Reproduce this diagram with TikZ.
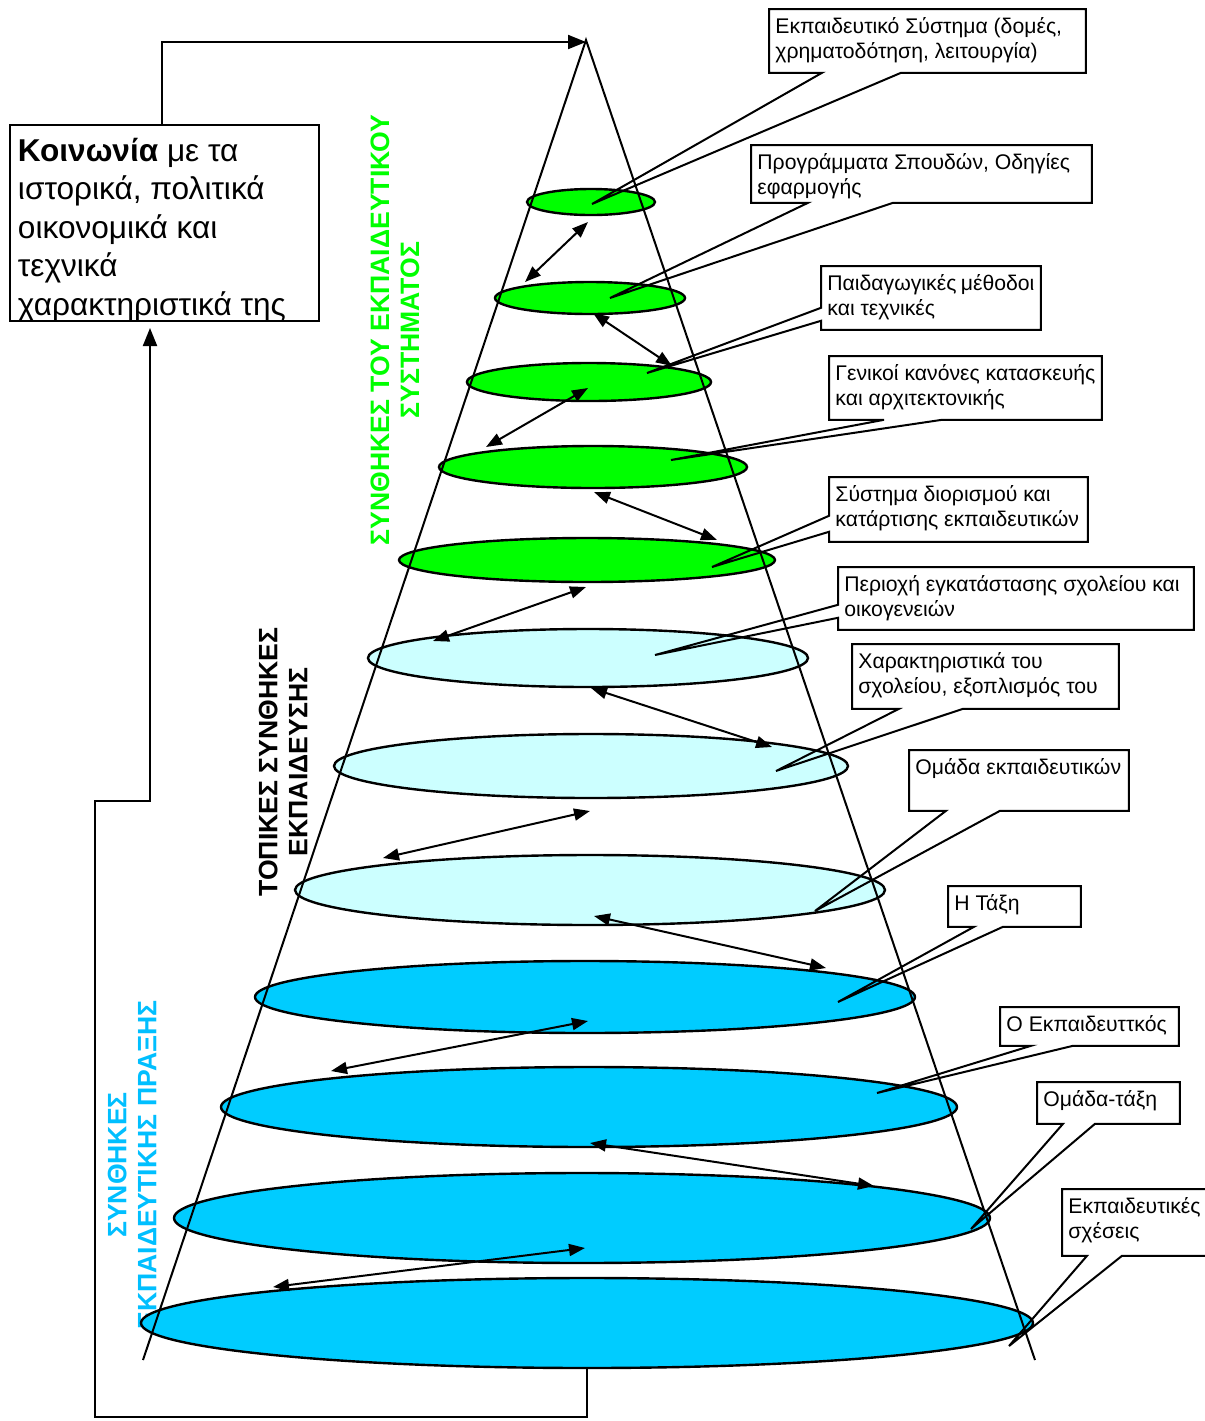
\documentclass[tikz,border=0pt]{standalone}
\usepackage{fontspec}
\setmainfont{Liberation Sans}
\usetikzlibrary{shapes.geometric,arrows.meta,calc}
\definecolor{sysgreen}{RGB}{0,255,0}
\definecolor{localcyan}{RGB}{204,255,255}
\definecolor{praxcyan}{RGB}{0,204,255}
\definecolor{praxtext}{RGB}{0,191,255}
% text of a callout box: first baseline 12.25pt below the top edge
\newcommand{\notetext}[3]{\parbox[c][#2][t]{#1}{\rule{0pt}{12.25pt}#3}}
\begin{document}
\begin{tikzpicture}[x=0.5pt,y=-0.5pt,
  disc/.style={ellipse, draw=black, line width=1.2pt, inner sep=0pt},
  link/.style={line width=1pt, {Triangle[length=8pt,width=6pt]}-{Triangle[length=8pt,width=6pt]}},
  flow/.style={line width=1pt, -{Triangle[length=9pt,width=7pt]}},
  note/.style={inner xsep=3pt, inner ysep=0pt, anchor=north west,
    font=\fontsize{10.6}{12.5}\selectfont},
  outline/.style={line width=1pt, line join=miter},
  title/.style={rotate=90, align=center,
    font=\fontsize{13.3}{15}\selectfont\bfseries}
]
\fill[white] (0,0) rectangle (1205,1421);
\useasboundingbox (0,0) rectangle (1205,1421);

% vertical titles of the three levels
\node[title, text=sysgreen] (tsys) at (395,330) {ΣΥΝΘΗΚΕΣ ΤΟΥ ΕΚΠΑΙΔΕΥΤΙΚΟΥ\\ΣΥΣΤΗΜΑΤΟΣ};
\node[title] (tloc) at (283,762) {ΤΟΠΙΚΕΣ ΣΥΝΘΗΚΕΣ\\ΕΚΠΑΙΔΕΥΣΗΣ};
\node[title, text=praxtext] (tprax) at (132,1165) {ΣΥΝΘΗΚΕΣ\\ΕΚΠΑΙΔΕΥΤΙΚΗΣ ΠΡΑΞΗΣ};

% discs of the cone
\node[disc, fill=sysgreen, minimum width=64pt, minimum height=13pt] (e1) at (591,202) {};
\node[disc, fill=sysgreen, minimum width=95pt, minimum height=16pt] (e2) at (590,298) {};
\node[disc, fill=sysgreen, minimum width=122pt, minimum height=19pt] (e3) at (589,382) {};
\node[disc, fill=sysgreen, minimum width=154pt, minimum height=21pt] (e4) at (593,467) {};
\node[disc, fill=sysgreen, minimum width=188pt, minimum height=22pt] (e5) at (587,560) {};
\node[disc, fill=localcyan, minimum width=220pt, minimum height=29pt] (e6) at (588,658) {};
\node[disc, fill=localcyan, minimum width=257pt, minimum height=32pt] (e7) at (591,766) {};
\node[disc, fill=localcyan, minimum width=295pt, minimum height=35pt] (e8) at (590,890) {};
\node[disc, fill=praxcyan, minimum width=330pt, minimum height=36pt] (e9) at (585,997) {};
\node[disc, fill=praxcyan, minimum width=368pt, minimum height=40pt] (e10) at (589,1107) {};
\node[disc, fill=praxcyan, minimum width=408pt, minimum height=45pt] (e11) at (582,1218) {};
\node[disc, fill=praxcyan, minimum width=446pt, minimum height=45pt] (e12) at (587,1323) {};

% cone
\coordinate (apex) at (586,40);
\coordinate (bl) at (143,1360);
\coordinate (br) at (1035,1360);
\draw[line width=1pt] (bl) -- (apex) -- (br);

% two-way links between neighbouring discs
\coordinate (a1) at (588,222);  \coordinate (b1) at (525,282);
\coordinate (a2) at (593,313);  \coordinate (b2) at (672,366);
\coordinate (a3) at (588,388);  \coordinate (b3) at (486,447);
\coordinate (a4) at (594,492);  \coordinate (b4) at (717,540);
\coordinate (a5) at (586,587);  \coordinate (b5) at (433,641);
\coordinate (a6) at (591,688);  \coordinate (b6) at (772,747);
\coordinate (a7) at (590,811);  \coordinate (b7) at (383,858);
\coordinate (a8) at (594,916);  \coordinate (b8) at (826,968);
\coordinate (a9) at (588,1021); \coordinate (b9) at (331,1071);
\coordinate (a10) at (590,1143); \coordinate (b10) at (874,1186);
\coordinate (a11) at (585,1248); \coordinate (b11) at (273,1287);
\foreach \i in {1,...,11} \draw[link] (a\i) -- (b\i);

% society box and the feedback loop
\node[inner xsep=4pt, inner ysep=0pt, anchor=north west, draw, line width=1pt,
      font=\fontsize{15.8}{19.25}\selectfont] (soc) at (9,124)
  {\parbox[c][98pt][t]{146.5pt}{\rule{0pt}{18pt}\textbf{Κοινωνία} με τα\\
   ιστορικά, πολιτικά\\ οικονομικά και\\ τεχνικά\\ χαρακτηριστικά της}};
\coordinate (socin) at (150,328);
\coordinate (topturn) at (162,42);
\draw[flow] (soc.north -| topturn) -- (topturn) -- (apex |- topturn);
\draw[flow] (e12.south) -- ++(0,48) -| (95,801) -- (150,801) -- (socin);

% callout boxes
\node[note] (c1) at (769,9) {\notetext{152pt}{31.5pt}{Εκπαιδευτικό Σύστημα (δομές,\\ χρηματοδότηση, λειτουργία)}};
\node[note] (c2) at (751,145) {\notetext{164pt}{28.5pt}{Προγράμματα Σπουδών, Οδηγίες\\ εφαρμογής}};
\node[note] (c3) at (821,266) {\notetext{103.5pt}{31.5pt}{Παιδαγωγικές μέθοδοι\\ και τεχνικές}};
\node[note] (c4) at (829,356) {\notetext{130pt}{31.5pt}{Γενικοί κανόνες κατασκευής\\ και αρχιτεκτονικής}};
\node[note] (c5) at (829,477) {\notetext{123pt}{32pt}{Σύστημα διορισμού και\\ κατάρτισης εκπαιδευτικών}};
\node[note] (c6) at (838,567) {\notetext{171.5pt}{31pt}{Περιοχή εγκατάστασης σχολείου και\\ οικογενειών}};
\node[note] (c7) at (852,644) {\notetext{127pt}{32pt}{Χαρακτηριστικά του\\ σχολείου, εξοπλισμός του}};
\node[note] (c8) at (909,750) {\notetext{103.5pt}{30pt}{Ομάδα εκπαιδευτικών}};
\node[note] (c9) at (948,886) {\notetext{60pt}{20pt}{Η Τάξη}};
\node[note] (c10) at (1000,1007) {\notetext{83pt}{19pt}{Ο Εκπαιδευττκός}};
\node[note] (c11) at (1037,1082) {\notetext{65pt}{20.5pt}{Ομάδα-τάξη}};
\node[note] (c12) at (1062,1189) {\notetext{69pt}{33pt}{Εκπαιδευτικές\\ σχέσεις}};

% tips of the callout tails
\coordinate (t1) at (592,204);
\coordinate (t2) at (610,298);
\coordinate (t3) at (647,373);
\coordinate (t4) at (671,460);
\coordinate (t5) at (712,567);
\coordinate (t6) at (655,655);
\coordinate (t7) at (776,771);
\coordinate (t8) at (815,911);
\coordinate (t9) at (838,1002);
\coordinate (t10) at (877,1093);
\coordinate (t11) at (971,1229);
\coordinate (t12) at (1009,1346);

% outlines with tails leaving the bottom edge
\foreach \c/\p/\q in {1/53/132, 2/57/142, 4/55/113, 7/47/111, 8/37/91,
                      9/26/55, 10/31/73, 11/26/58, 12/25/60}
  \draw[outline] (c\c.south west) -- (c\c.north west) -- (c\c.north east)
    -- (c\c.south east) -- ($(c\c.south west)+(\q,0)$) -- (t\c)
    -- ($(c\c.south west)+(\p,0)$) -- cycle;
% outlines with tails leaving the left edge
\foreach \c/\p/\q in {3/22/9, 5/26/10, 6/25/12}
  \draw[outline] (c\c.south west) -- (c\c.south east) -- (c\c.north east)
    -- (c\c.north west) -- ($(c\c.south west)+(0,-\p)$) -- (t\c)
    -- ($(c\c.south west)+(0,-\q)$) -- cycle;
\end{tikzpicture}
\end{document}
